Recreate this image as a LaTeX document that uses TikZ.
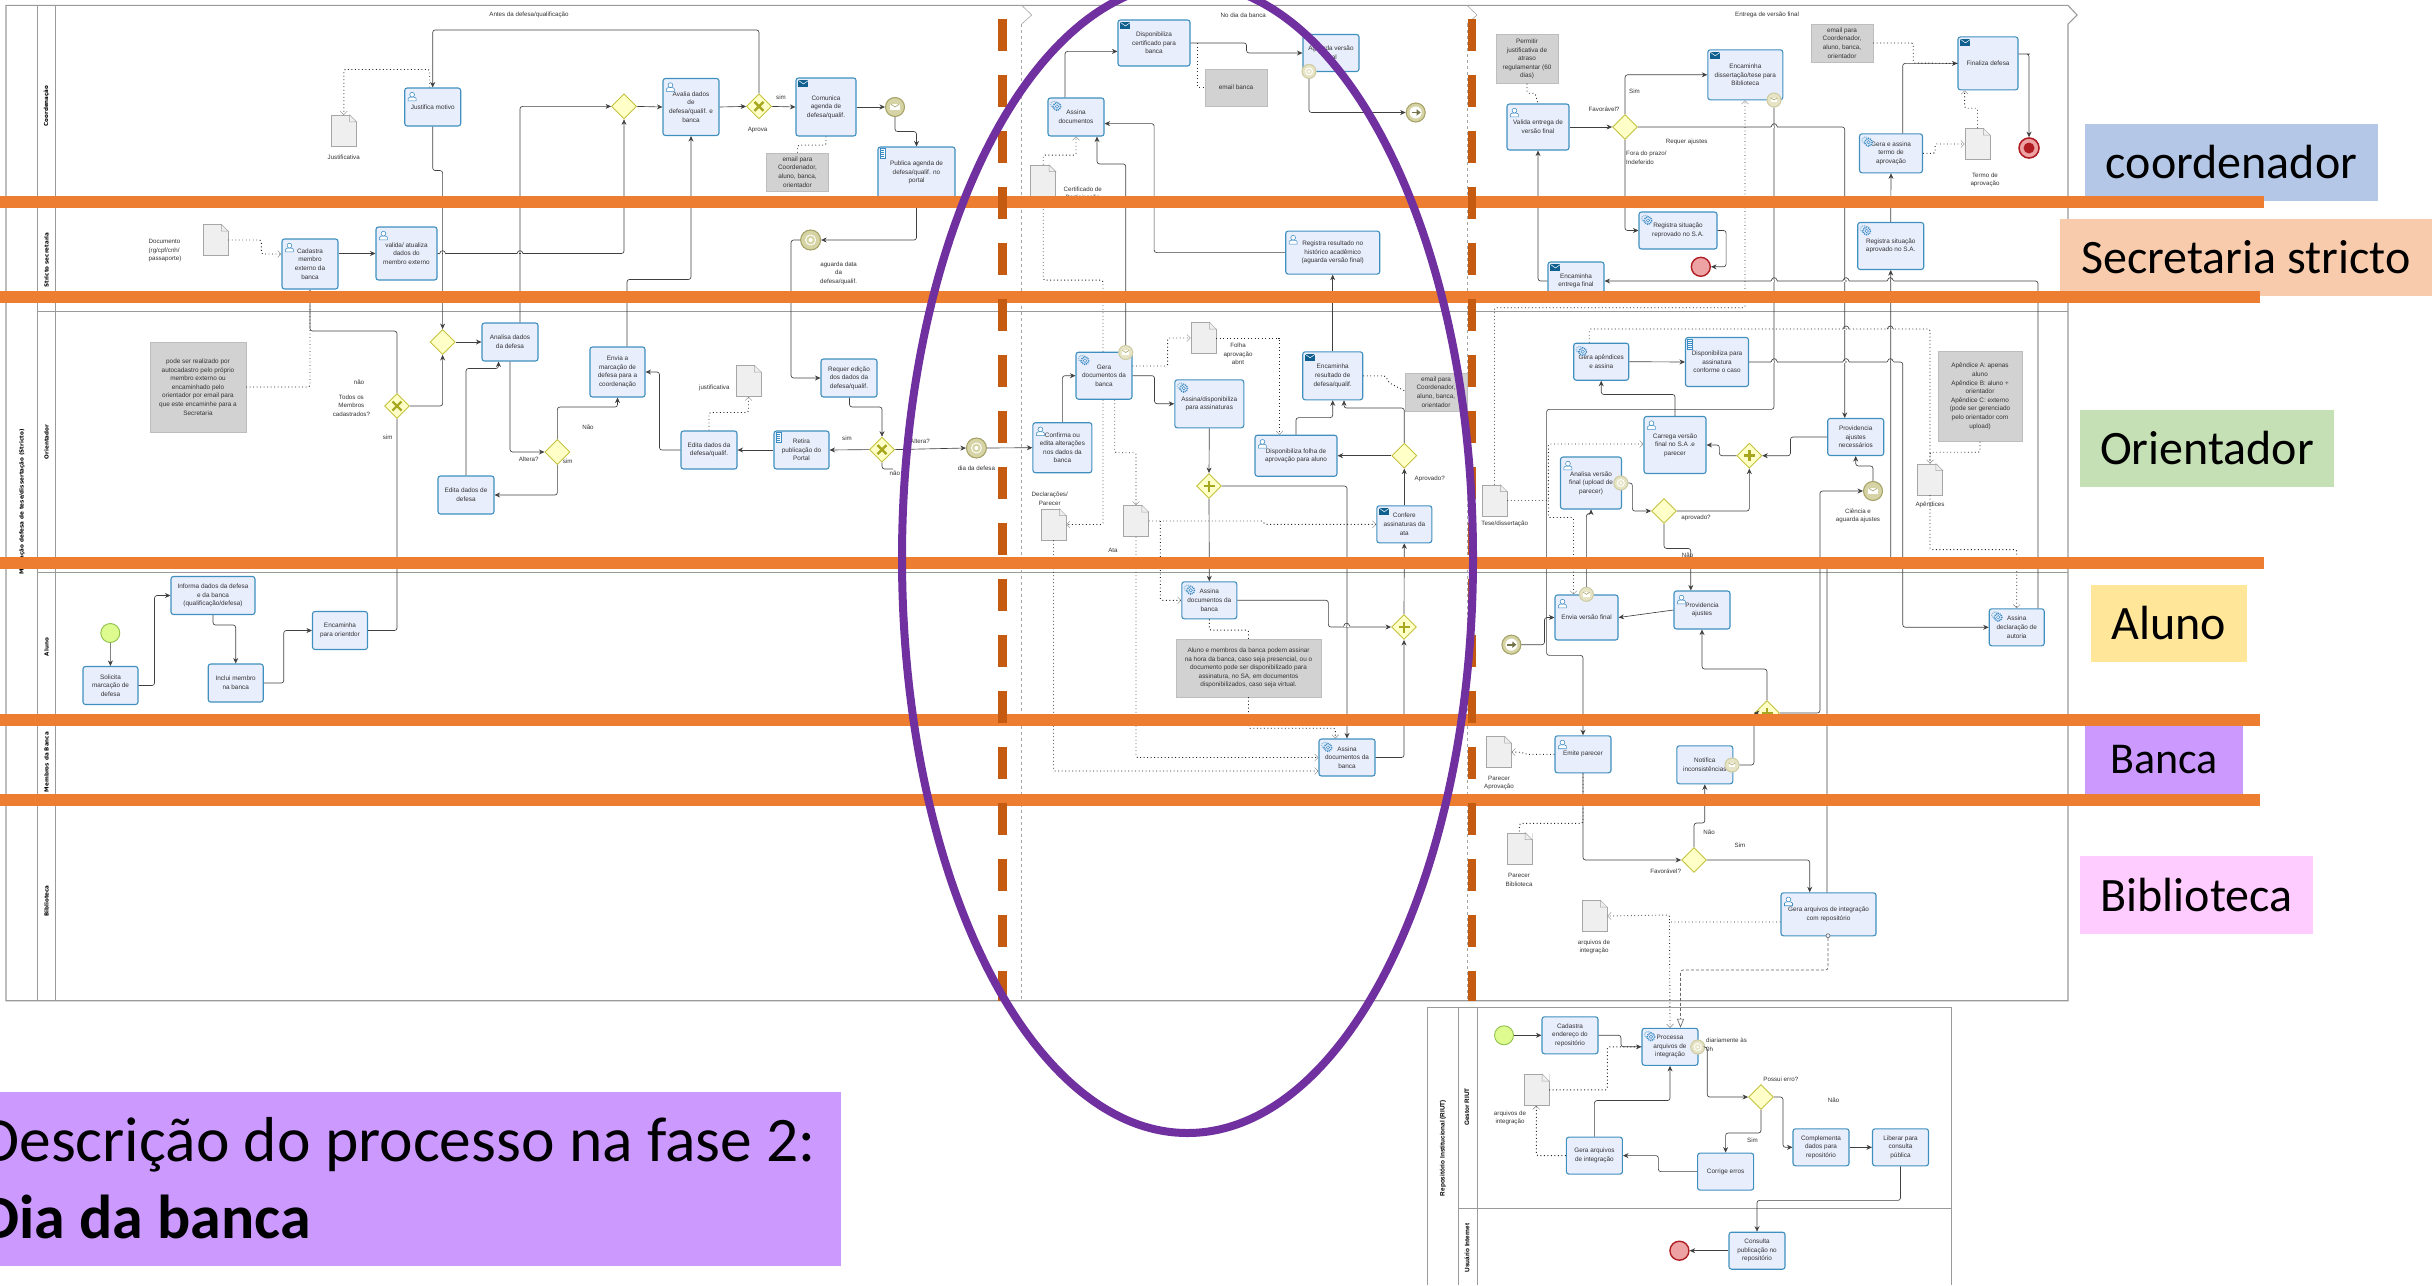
\documentclass[tikz,border=0pt]{standalone}
\usepackage{fontspec}
\setmainfont{Liberation Sans}
\newfontfamily\slidefont{Carlito}
\newfontfamily\lanefont{DejaVu Sans}
\usetikzlibrary{arrows.meta,shapes.geometric}

\definecolor{taskfill}{HTML}{E9EEFC}
\definecolor{taskline}{HTML}{3F8FBF}
\definecolor{iconblue}{HTML}{3B8CC4}
\definecolor{envblue}{HTML}{0F5F8F}
\definecolor{gwfill}{HTML}{FFFFC8}
\definecolor{gwline}{HTML}{C4C23C}
\definecolor{gwmark}{HTML}{A8A820}
\definecolor{evfill}{HTML}{D6D4A4}
\definecolor{evline}{HTML}{A6A368}
\definecolor{bndfill}{HTML}{E6E4C4}
\definecolor{bndline}{HTML}{CFCDA6}
\definecolor{startfill}{HTML}{DDFB8F}
\definecolor{startline}{HTML}{8FC24A}
\definecolor{endfill}{HTML}{EDA3A3}
\definecolor{endline}{HTML}{B01E24}
\definecolor{poolgray}{HTML}{9A9A9A}
\definecolor{notegray}{HTML}{D2D2D2}
\definecolor{docfill}{HTML}{EFEFEF}
\definecolor{barorange}{HTML}{ED7D31}
\definecolor{phaseorange}{HTML}{C55A11}
\definecolor{ringpurple}{HTML}{7030A0}
\definecolor{boxcoord}{HTML}{B4C7E7}
\definecolor{boxsecr}{HTML}{F8CBAD}
\definecolor{boxorient}{HTML}{C5E0B4}
\definecolor{boxaluno}{HTML}{FFE699}
\definecolor{boxbanca}{HTML}{CC99FF}
\definecolor{boxbib}{HTML}{FFCCFF}

\tikzset{
	task/.style 2 args={draw=taskline, fill=taskfill, line width=1.1pt, rounded corners=2.5pt,
		minimum width=#1pt, minimum height=#2pt, inner sep=0pt, align=center,
		font=\fontsize{6.4}{8.6}\selectfont, text=black!80},
	note/.style 2 args={fill=notegray, draw=notegray!90!black, line width=.4pt,
		minimum width=#1pt, minimum height=#2pt, inner sep=0pt, align=center,
		font=\fontsize{6.4}{8.6}\selectfont, text=black!80},
	docum/.style={draw=gray!70, fill=docfill, line width=.6pt, minimum width=25pt, minimum height=31pt, inner sep=0pt},
	lbl/.style={inner sep=0pt, align=center, font=\fontsize{6.2}{8.6}\selectfont, text=black!80},
	lanelbl/.style={rotate=90, inner sep=0pt, font=\lanefont\fontsize{5.6}{7}\bfseries\selectfont},
	gateway/.style={diamond, aspect=1, draw=gwline, fill=gwfill, line width=.9pt, minimum size=25pt, inner sep=0pt},
	xgate/.style={gateway, path picture={\draw[gwmark, line width=2.4pt]
		([shift={(-4.5pt,-4.5pt)}]path picture bounding box.center) -- ([shift={(4.5pt,4.5pt)}]path picture bounding box.center)
		([shift={(-4.5pt,4.5pt)}]path picture bounding box.center) -- ([shift={(4.5pt,-4.5pt)}]path picture bounding box.center);}},
	pgate/.style={gateway, path picture={\draw[gwmark, line width=2.6pt]
		([xshift=-5.5pt]path picture bounding box.center) -- ([xshift=5.5pt]path picture bounding box.center)
		([yshift=-5.5pt]path picture bounding box.center) -- ([yshift=5.5pt]path picture bounding box.center);}},
	startev/.style={circle, draw=startline, fill=startfill, line width=.9pt, minimum size=19pt, inner sep=0pt},
	endev/.style={circle, draw=endline, fill=endfill, line width=1.4pt, minimum size=19pt, inner sep=0pt},
	event/.style={circle, draw=evline, fill=evfill, line width=1.1pt, minimum size=#1pt, inner sep=0pt},
	bnd/.style={draw=bndline, fill=bndfill},
	evmsg/.style={event=#1, path picture={
		\fill[white] ([shift={(-.24*#1pt,-.16*#1pt)}]path picture bounding box.center) rectangle ([shift={(.24*#1pt,.16*#1pt)}]path picture bounding box.center);
		\draw[evline, line width=.6pt] ([shift={(-.24*#1pt,.16*#1pt)}]path picture bounding box.center) -- (path picture bounding box.center) -- ([shift={(.24*#1pt,.16*#1pt)}]path picture bounding box.center);}},
	evclk/.style={event=#1, path picture={
		\draw[white, line width=.9pt] (path picture bounding box.center) circle (#1pt*.25);
		\fill[white] (path picture bounding box.center) circle (#1pt*.1);}},
	evarr/.style={event=19, path picture={
		\fill[white] (path picture bounding box.center) circle (6pt);
		\draw[evline!70!black, line width=1.6pt, -{Triangle[length=4pt,width=6pt]}]
			([xshift=-4pt]path picture bounding box.center) -- ([xshift=5pt]path picture bounding box.center);}},
	flow/.style={draw=black!75, line width=.65pt, rounded corners=2.5pt, -{Stealth[length=5.5pt,width=5pt]}},
	flowend/.style={draw=black!75, line width=.65pt, rounded corners=2.5pt},
	assoc/.style={draw=black!85, line width=.9pt, rounded corners=1.5pt, dash pattern=on .9pt off 2.6pt},
	assocto/.style={assoc, -{Straight Barb[length=3.5pt,width=7pt,line width=.4pt,gray]}},
	msgflow/.style={draw=black!60, line width=.65pt, rounded corners=2.5pt, dash pattern=on 3pt off 2pt, -{Triangle[open,length=9pt,width=7pt]}},
	legend/.style={inner sep=0pt, font=\slidefont\fontsize{#1}{56}\selectfont},
	pics/usericon/.style={code={
		\draw[iconblue, fill=white, line width=.55pt] (-4,4.5) -- (-4,2) .. controls (-4,0) and (4,0) .. (4,2) -- (4,4.5) -- cycle;
		\draw[iconblue, fill=white, line width=.55pt] (0,-1.8) circle (2.4);}},
	pics/gearicon/.style={code={
		\draw[iconblue!55, line width=1.4pt, dash pattern=on 1pt off 1pt] (-1.5,-1) circle (3.4);
		\draw[iconblue, fill=taskfill, line width=1.5pt, dash pattern=on 1pt off .9pt] (1.5,1) circle (3.8);
		\draw[iconblue, line width=.5pt] (1.5,1) circle (1.8);}},
	pics/envicon/.style={code={
		\fill[envblue] (-5,-3.5) rectangle (5,3.5);
		\draw[white, line width=.5pt] (-5,-3) -- (0,.5) -- (5,-3);}},
	pics/scripticon/.style={code={
		\draw[iconblue, fill=white, line width=.55pt] (-2.6,-5) rectangle (2.6,5);
		\foreach \yl in {-3,-1,1,3} \draw[iconblue, line width=.4pt] (-1.6,\yl) -- (1.6,\yl);}},
}

\begin{document}
\begin{tikzpicture}[x=1pt, y=-1pt]
	\useasboundingbox (0,0) rectangle (2432,1285);

	% Pool and lanes
	\draw[poolgray, line width=1.1pt] (6,5.4) -- (2068,5.4) -- (2077,15) -- (2068,24) -- (2068,1000.7) -- (6,1000.7) -- cycle;
	\draw[poolgray, line width=1pt] (37.6,5.4) -- (37.6,1000.7) (55.5,5.4) -- (55.5,1000.7);
	\draw[poolgray, line width=1pt] (37.6,311) -- (2068,311) (37.6,572) -- (2068,572);
	\foreach \xp in {1021.7,1467} {
		\draw[gray!70, line width=.6pt] (\xp,5.4) -- (\xp+10,15) -- (\xp,24);
		\draw[gray!70, line width=.6pt, dashed] (\xp,24) -- (\xp,1000.7);
	}
	\node[lanelbl] (poolname) at (22,502) {Marcação defesa de tese/dissertação (Stricto)};
	\node[lanelbl] (lcoord) at (46.5,106) {Coordenação};
	\node[lanelbl] (lsecr) at (46.5,260) {Stricto secretaria};
	\node[lanelbl] (lorient) at (46.5,442) {Orientador};
	\node[lanelbl] (laluno) at (46.5,647) {Aluno};
	\node[lanelbl] (lbanca) at (46.5,762) {Membros da Banca};
	\node[lanelbl] (lbib) at (46.5,901) {Biblioteca};
	\node[lbl] (phase1) at (529,15) {Antes da defesa/qualificação};
	\node[lbl] (phase2) at (1243.3,15) {No dia da banca};
	\node[lbl] (phase3) at (1767,14.6) {Entrega de versão final};

	\draw[poolgray, line width=1.1pt] (1427.5,1285) -- (1427.5,1007.3) -- (1951.5,1007.3) -- (1951.5,1285);
	\draw[poolgray, line width=1pt] (1458.5,1007.3) -- (1458.5,1285) (1477.7,1007.3) -- (1477.7,1285) (1458.5,1208.3) -- (1951.5,1208.3);
	\node[lanelbl, font=\fontsize{6.4}{8}\bfseries\selectfont] (poolriut) at (1443,1148) {Repositório Institucional (RIUT)};
	\node[lanelbl, font=\fontsize{6.4}{8}\bfseries\selectfont] (lgestor) at (1467,1107) {Gestor RIUT};
	\node[lanelbl, font=\fontsize{6.4}{8}\bfseries\selectfont] (lusuario) at (1467,1248) {Usuário Internet};

	% Nodes: before the defence
	\node[task={56}{38}] (justifica) at (432.7,107) {Justifica motivo};
	\node[task={56}{57}] (avalia) at (691,107) {Avalia dados\\de\\defesa/qualif. e\\banca};
	\node[task={60}{58}] (comunica) at (826,107) {Comunica\\agenda de\\defesa/qualif.};
	\node[task={77}{51}] (publica) at (916.5,172.5) {Publica agenda de\\defesa/qualif. no\\portal};
	\node[task={56}{50}] (cadastra) at (310,264) {Cadastra\\membro\\externo da\\banca};
	\node[task={61}{53}] (validamb) at (406.5,253.5) {valida/ atualiza\\dados do\\membro externo};
	\node[task={56}{38}] (analisad) at (510,342) {Analisa dados\\da defesa};
	\node[task={55}{50}] (enviamarc) at (617.5,372) {Envia a\\marcação de\\defesa para a\\coordenação};
	\node[task={56}{38}] (requer) at (849,378) {Requer edição\\dos dados da\\defesa/qualif.};
	\node[task={55}{38}] (retira) at (801.5,450) {Retira\\publicação do\\Portal};
	\node[task={56}{38}] (editaqual) at (709,450) {Edita dados da\\defesa/qualif.};
	\node[task={56}{38}] (editadef) at (466,495) {Edita dados de\\defesa};
	\node[task={84}{38}] (informa) at (213,595.5) {Informa dados da defesa\\e da banca\\(qualificação/defesa)};
	\node[task={55}{38}] (encorient) at (340,630.5) {Encaminha\\para orientdor};
	\node[task={55}{38}] (inclui) at (235.7,683) {Inclui membro\\na banca};
	\node[task={55}{38}] (solicita) at (110.5,685.5) {Solicita\\marcação de\\defesa};

	\node[gateway] (gwjunta) at (624,106.4) {};
	\node[xgate] (gwaprova) at (759,106.4) {};
	\node[gateway] (gwanalise) at (442.6,342) {};
	\node[xgate] (gwtodos) at (397,406) {};
	\node[gateway] (gwaltera) at (557.4,452) {};
	\node[xgate] (gwedita) at (882,449.6) {};
	\node[evmsg=19] (evagenda) at (895,107) {};
	\node[evclk=20] (evaguarda) at (810.6,240) {};
	\node[evclk=20] (evdia) at (976.4,448) {};
	\node[startev] (inicio) at (110.3,633) {};

	\node[note={96}{90}] (notaauto) at (198,387) {pode ser realizado por\\autocadastro pelo próprio\\membro externo ou\\encaminhado pelo\\orientador por email para\\que este encaminhe para a\\Secretaria};
	\node[note={62}{38}] (notaemaila) at (797.5,172) {email para\\Coordenador,\\aluno, banca,\\orientador};
	\node[docum] (docjust) at (343.8,130.7) {};
	\node[docum] (docident) at (215.5,240) {};
	\node[docum] (docjustb) at (748.5,381) {};

	\node[lbl] (ljust) at (343.7,156.8) {Justificativa};
	\node[lbl, align=left] (lident) at (165,250.7) {Documento\\(rg/cpf/cnh/\\passaporte)};
	\node[lbl] (ljustb) at (714.3,388) {justificativa};
	\node[lbl] (lsima) at (781,97.5) {sim};
	\node[lbl] (laprova) at (757.6,130) {Aprova};
	\node[lbl] (lnaoa) at (359,382.5) {não};
	\node[lbl] (ltodos) at (351.4,405.4) {Todos os\\Membros\\cadastrados?};
	\node[lbl] (lsimb) at (387.8,437) {sim};
	\node[lbl] (lnaob) at (588,427) {Não};
	\node[lbl] (lalteraa) at (528.7,459.6) {Altera?};
	\node[lbl] (lsimc) at (567.6,461) {sim};
	\node[lbl] (laguarda) at (838.6,273) {aguarda data\\da\\defesa/qualif.};
	\node[lbl] (lsimd) at (847,438) {sim};
	\node[lbl] (lalterab) at (920,441.4) {Altera?};
	\node[lbl] (lnaoc) at (894.8,473) {não};
	\node[lbl] (ldia) at (976.4,468) {dia da defesa};

	% Links: before the defence
	\draw[flow] (inicio) -- (solicita);
	\draw[flow] (solicita.east) -- ++(16,0) |- (informa.west);
	\draw[flow] (informa.south) -- ++(0,10) -| (inclui.north);
	\draw[flow] (inclui.east) -- ++(20,0) |- (encorient.west);
	\draw[flowend] (encorient.east) -| (gwtodos.south);
	\draw[flow] (gwtodos.north) -- ++(0,-62) -| (cadastra.south);
	\draw[flow] (gwtodos.east) -| (gwanalise.south);
	\draw[flow] (justifica.south) -- ++(0,44) -| (gwanalise.north);
	\draw[flow] (gwanalise.east) -- (analisad.west);
	\draw[flow] ([xshift=10pt]analisad.north) |- (gwjunta.west);
	\draw[flow] (analisad.south) |- (gwaltera.west);
	\draw[flow] (gwaltera.south) |- (editadef.east);
	\draw[flow] (editadef.north) -- ++(0,-107) -| ([xshift=-11.5pt]analisad.south);
	\draw[flow] (gwaltera.north) -- ++(0,-32) -| (enviamarc.south);
	\draw[flow] ([xshift=9.5pt]enviamarc.north) -- ++(0,-67) -| (avalia.south);
	\draw[flow] (cadastra.east |- validamb.west) -- (validamb.west);
	\draw[flow] (validamb.east) -| (gwjunta.south);
	\draw[flow] (gwjunta.east) -- (avalia.west);
	\draw[flow] (avalia.east) -- (gwaprova.west);
	\draw[flow] (gwaprova.east) -- (comunica.west);
	\draw[flow] (gwaprova.north) -- ++(0,-63.5) -| (justifica.north);
	\draw[flow] (comunica.east) -- (evagenda.west);
	\draw[flow] (evagenda.south) -- ++(0,14.5) -| (publica.north);
	\draw[flow] (publica.south) |- (evaguarda.east);
	\draw[flow] (evaguarda.west) -- ++(-9,0) |- (requer.west);
	\draw[flow] ([xshift=.5pt]requer.south) -- ++(0,9.4) -| (gwedita.north);
	\draw[flow] (gwedita.west) -- (retira.east);
	\draw[flow] (retira.west) -- (editaqual.east);
	\draw[flow] (editaqual.west) -- ++(-21,0) |- (enviamarc.east);
	\draw[flow] (gwedita.east) -- (evdia.west);
	\coordinate (naofim) at (893,469);
	\draw[flowend] (gwedita.south) |- (naofim);
	\draw[assoc] (notaauto.east) -| (cadastra.south);
	\draw[assocto] ([xshift=-3pt]justifica.north) -- ++(0,-18) -| (docjust.north);
	\draw[assocto] (docident.east) -- ++(33,0) |- ([yshift=10pt]cadastra.west);
	\draw[assoc] (comunica.south) -- ++(0,8.6) -| (notaemaila.north);
	\draw[assocto] (editaqual.north) -- ++(0,-18) -| (docjustb.south);

	% Nodes: day of the defence
	\node[task={72}{46}] (disponib) at (1154,43) {Disponibiliza\\certificado para\\banca};
	\node[task={56}{37}] (aguarda) at (1331,53) {Aguarda versão\\final};
	\node[task={56}{38}] (assinadoc) at (1076,117) {Assina\\documentos};
	\node[task={94}{43}] (regresult) at (1332.7,252.6) {Registra resultado no\\histórico acadêmico\\(aguarda versão final)};
	\node[task={56}{47}] (geradoc) at (1104,375.7) {Gera\\documentos da\\banca};
	\node[task={69}{48}] (assinadisp) at (1209.3,403.8) {Assina/disponibiliza\\para assinaturas};
	\node[task={60}{48}] (encresult) at (1332.7,375.8) {Encaminha\\resultado de\\defesa/qualif.};
	\node[task={82}{41}] (dispfolha) at (1296,455.7) {Disponibiliza folha de\\aprovação para aluno};
	\node[task={59}{50}] (confirma) at (1062.4,447.7) {Confirma ou\\edita alterações\\nos dados da\\banca};
	\node[task={55}{37}] (confere) at (1404.3,524.3) {Confere\\assinaturas da\\ata};
	\node[task={55}{37}] (assinaal) at (1209.3,600.3) {Assina\\documentos da\\banca};
	\node[task={56}{37}] (assinabc) at (1347,757.5) {Assina\\documentos da\\banca};

	\node[gateway] (gwaprovado) at (1404.3,455.7) {};
	\node[pgate] (gwdivide) at (1209,486) {};
	\node[pgate] (gwreune) at (1404,627) {};
	\node[evclk=14, bnd] (bndaguarda) at (1309,71.4) {};
	\node[evarr] (fimbanca) at (1415.7,112.5) {};
	\node[evmsg=14, bnd] (bndgera) at (1125.7,352.5) {};

	\node[note={62}{37}] (notaemailb) at (1236,87.7) {email banca};
	\node[note={62}{38}] (notaemailc) at (1436,392) {email para\\Coordenador,\\aluno, banca,\\orientador};
	\node[note={145}{58}] (notaassina) at (1248.5,668) {Aluno e membros da banca podem assinar\\na hora da banca, caso seja presencial, ou o\\documento pode ser disponibilizado para\\assinatura, no SA, em documentos\\disponibilizados, caso seja virtual.};
	\node[docum] (doccert) at (1043.2,180.5) {};
	\node[docum] (docfolha) at (1203.5,338) {};
	\node[docum] (docdecl) at (1053.5,524.5) {};
	\node[docum] (docata) at (1136,521) {};

	\node[lbl] (lcert) at (1082.7,194) {Certificado de\\Participação};
	\node[lbl] (lfolha) at (1238,354) {Folha\\aprovação\\abnt};
	\node[lbl] (ldecl) at (1049.7,499) {Declarações/\\Parecer};
	\node[lbl] (lata) at (1113,550) {Ata};
	\node[lbl] (laprovado) at (1429.7,479) {Aprovado?};

	% Links: day of the defence
	\draw[flow] (evdia.east) -- (confirma.west);
	\draw[flow] (confirma.north) |- (geradoc.west);
	\draw[flow] (geradoc.east) -- ++(22,0) |- (assinadisp.west);
	\draw[flow] (bndgera.north) -- ++(0,-181) -| ([xshift=21pt]assinadoc.south);
	\draw[flow] ([xshift=-11pt]assinadoc.north) |- ([yshift=-8.4pt]disponib.west);
	\draw[flow] (disponib.east) -- ++(56,0) |- (aguarda.west);
	\draw[flow] (bndaguarda.south) |- (fimbanca.west);
	\draw[flow] (regresult.west) -- ++(-131,0) |- ([yshift=-6.6pt]assinadoc.east);
	\draw[flow] (encresult.north) -- (regresult.south);
	\draw[flow] (dispfolha.north) -- ++(0,-17) -| (encresult.south);
	\draw[flow] (gwaprovado.north) -- ++(0,-34.7) -| ([xshift=11.3pt]encresult.south);
	\draw[flow] (gwaprovado.west) -- (dispfolha.east);
	\draw[flow] (confere.north) -- (gwaprovado.south);
	\draw[flow] (assinadisp.south) -- (gwdivide.north);
	\draw[flow] (gwdivide.south) -- (assinaal.north);
	\draw[flow] (gwdivide.east) -| (assinabc.north);
	\draw[flow] (assinaal.east) -- ++(91,0) |- (gwreune.west);
	\draw[flow] (assinabc.east) -| (gwreune.south);
	\draw[flow] (gwreune.north) -- (confere.south);
	\draw[assoc] (disponib.east) ++(7,0) |- (notaemailb.west);
	\draw[assoc] (encresult.east) -- ++(22,0) -- ++(4,7) -- (notaemailc.west |- 0,391);
	\draw[assoc] ([xshift=-1pt]geradoc.north) -- ++(0,-71.5) -| (doccert.south);
	\draw[assocto] (doccert.north) -- ++(0,-9.6) -| (assinadoc.south);
	\draw[assocto] ([yshift=9.7pt]geradoc.east) -- ++(35,0) |- (docfolha.west);
	\draw[assocto] (docfolha.east) -- ++(63,0) -| ([xshift=-16.6pt]dispfolha.north);
	\draw[assocto] ([xshift=-1pt]geradoc.south) |- (docdecl.east);
	\draw[assocto] ([xshift=10.7pt]geradoc.south) -- ++(0,53) -| (docata.north);
	\draw[assocto] (docata.east) -- ++(114,0) -- ++(2,3.3) -- (confere.west);
	\draw[assocto] (docata.east) ++(11.6,0) |- (assinaal.west);
	\draw[assocto] (docata.south) |- (assinabc.west);
	\draw[assocto] (docdecl.south) |- ([yshift=-13.5pt]assinabc.west);
	\draw[assoc] (assinaal.south) -- ++(0,10.7) -| (notaassina.north);
	\draw[assocto] (notaassina.south) -- ++(0,31) -| ([xshift=-11.7pt]assinabc.north);

	% Nodes: final version
	\node[task={62}{46}] (validaent) at (1538,127) {Valida entrega de\\versão final};
	\node[task={75}{50}] (encbib) at (1745.3,74.8) {Encaminha\\dissertação/tese para\\Biblioteca};
	\node[task={60}{53}] (finaliza) at (1988,63.4) {Finaliza defesa};
	\node[task={63}{39}] (geratermo) at (1891,153.3) {Gera e assina\\termo de\\aprovação};
	\node[task={78}{37}] (regreprov) at (1678,230.5) {Registra situação\\reprovado no S.A.};
	\node[task={66}{47}] (regaprov) at (1890.7,246) {Registra situação\\aprovado no S.A.};
	\node[task={56}{38}] (entrega) at (1576,281) {Encaminha\\entrega final};
	\node[task={55}{37}] (geraapend) at (1601.2,361.7) {Gera apêndices\\e assina};
	\node[task={63}{49}] (dispass) at (1717,362) {Disponibiliza para\\assinatura\\conforme o caso};
	\node[task={62}{57}] (carrega) at (1675,445) {Carrega versão\\final no S.A .e\\parecer};
	\node[task={56}{37}] (provnec) at (1855.7,437) {Providencia\\ajustes\\necessários};
	\node[task={61}{52}] (analver) at (1591,483) {Analisa versão\\final (upload de\\parecer)};
	\node[task={63}{45}] (enviaver) at (1586.5,617.5) {Envia versão final};
	\node[task={56}{38}] (provajust) at (1702,610) {Providencia\\ajustes};
	\node[task={55}{37}] (declara) at (2016.7,627.3) {Assina\\declaração de\\autoria};
	\node[task={56}{37}] (emite) at (1583,754.3) {Emite parecer};
	\node[task={56}{38}] (notifica) at (1704.8,764.8) {Notifica\\inconsistências};
	\node[task={95}{43}] (gerarq) at (1828.5,914.3) {Gera arquivos de integração\\com repositório};

	\node[gateway] (gwfavor) at (1625,127) {};
	\node[pgate] (gwajuste) at (1749.3,455.7) {};
	\node[gateway] (gwaprov) at (1664,511) {};
	\node[pgate] (gwaluno) at (1767,713) {};
	\node[gateway] (gwfavorb) at (1694,860) {};
	\node[evmsg=14, bnd] (bndbib) at (1774,100) {};
	\node[evclk=14, bnd] (bndanalisa) at (1620.8,483) {};
	\node[evmsg=14, bnd] (bndenvia) at (1586.4,594.3) {};
	\node[evmsg=14, bnd] (bndnotif) at (1732,765) {};
	\node[evmsg=19] (evciencia) at (1873,491) {};
	\node[evarr] (evretorno) at (1511.4,644.7) {};
	\node[endev] (fimreprov) at (1700.8,266.8) {};
	\node[circle, draw=endline, fill=endfill, line width=1.6pt, minimum size=20pt, inner sep=0pt,
		path picture={\fill[endline] (path picture bounding box.center) circle (5.5pt);}] (fimdefesa) at (2029,148) {};
	\node[circle, draw=black!60, fill=taskfill, line width=.6pt, minimum size=4pt, inner sep=0pt] (msgorig) at (1828,935.7) {};

	\node[note={62}{49}] (notaprazo) at (1527,59) {Permitir\\justificativa de\\atraso\\regulamentar (60\\dias)};
	\node[note={62}{38}] (notaemaild) at (1842,43) {email para\\Coordenador,\\aluno, banca,\\orientador};
	\node[note={84}{90}] (notaapend) at (1980,396.4) {Apêndice A: apenas\\aluno\\Apêndice B: aluno +\\orientador\\Apêndice C: externo\\(pode ser gerenciado\\pelo orientador com\\upload)};
	\node[docum] (doctermo) at (1977.5,144) {};
	\node[docum] (docapend) at (1930,479.3) {};
	\node[docum] (doctese) at (1494.5,500.5) {};
	\node[docum] (docparap) at (1498.7,752) {};
	\node[docum] (docparbib) at (1519.4,848.5) {};
	\node[docum] (docarq) at (1594.5,916) {};

	\node[lbl] (lfavora) at (1604,109) {Favorável?};
	\node[lbl] (lsime) at (1634.5,91) {Sim};
	\node[lbl] (lajustes) at (1686.7,141.4) {Requer ajustes};
	\node[lbl, align=left, anchor=west] (lfora) at (1626,158) {Fora do prazo/\\Indeferido};
	\node[lbl] (ltermo) at (1985,180) {Termo de\\aprovação};
	\node[lbl] (laprovb) at (1696,518) {aprovado?};
	\node[lbl] (lnaod) at (1687.6,555) {Não};
	\node[lbl] (lciencia) at (1858,516) {Ciência e\\aguarda ajustes};
	\node[lbl] (lapend) at (1930,505) {Apêndices};
	\node[lbl] (ltese) at (1504.7,524) {Tese/dissertação};
	\node[lbl] (lparap) at (1499,783) {Parecer\\Aprovação};
	\node[lbl] (lparbib) at (1519,879.7) {Parecer\\Biblioteca};
	\node[lbl] (larq) at (1594,946.7) {arquivos de\\integração};
	\node[lbl] (lfavorb) at (1665.6,871) {Favorável?};
	\node[lbl] (lnaoe) at (1709,832) {Não};
	\node[lbl] (lsimf) at (1740,845) {Sim};

	% Links: final version
	\draw[flow] (validaent.east) -- (gwfavor.west);
	\draw[flow] (gwfavor.north) |- (encbib.west);
	\draw[flow] (gwfavor.east) -| ([xshift=-11pt]provnec.north);
	\draw[flow] (gwfavor.south) |- (regreprov.west);
	\draw[flow] (regreprov.east) -- ++(8.5,0) |- (fimreprov.east);
	\draw[flow] (entrega.west) -| (validaent.south);
	\draw[flow] ([xshift=21.3pt]declara.north) |- (entrega.east);
	\draw[flow] (regaprov.north) -- (geratermo.south);
	\draw[flow] ([xshift=-1.5pt]gerarq.north) -- ++(0,-332) -| (regaprov.south);
	\draw[flow] ([xshift=11.7pt]geratermo.north) |- (finaliza.west);
	\draw[flow] ([yshift=9.4pt]finaliza.east) -- ++(9,0) -| (fimdefesa.north);
	\draw[flow] (bndbib.south) -- ++(0,301.8) -| ++(-227.4,246) -| (emite.north);
	\draw[flow] (evretorno.east) -- ++(23,0) |- (enviaver.west);
	\draw[flow] (provajust.west) -- (enviaver.east);
	\draw[flow] (gwaluno.north) -- ++(0,-31) -| (provajust.south);
	\draw[flow] (bndnotif.east) -- ++(14.4,0) |- (gwaluno.west);
	\draw[flow] (gwaluno.east) -- ++(40,0) |- (evciencia.west);
	\draw[flow] (gwfavorb.north) -- ++(0,-24) -| (notifica.south);
	\draw[flow] (emite.south) |- (gwfavorb.west);
	\draw[flow] (gwfavorb.east) -| ([xshift=-18.8pt]gerarq.north);
	\draw[flow] (geraapend.east) -- (dispass.west);
	\draw[flow] (dispass.east) -- ++(153.7,0) |- (declara.west);
	\draw[flow] (carrega.north) -- ++(0,-21.5) -| (geraapend.south);
	\draw[flow] (gwajuste.west) -- ++(-17,0) |- (carrega.east);
	\draw[flow] (provnec.west) -- ++(-36.7,0) |- (gwajuste.east);
	\draw[flow] (evciencia.north) -- ++(0,-15) -| (provnec.south);
	\draw[flow] (bndanalisa.east) -- ++(4,0) |- (gwaprov.west);
	\draw[flow] (gwaprov.east) -| (gwajuste.south);
	\draw[flow] (gwaprov.south) -- ++(0,24.5) -| ([xshift=-11.2pt]provajust.north);
	\draw[flow] (bndenvia.north) -- ++(0,-73) -| (analver.south);
	\draw[assoc] (notaprazo.south) -- ++(0,9.5) -- ++(8,0) -- (validaent.north);
	\draw[assoc] (notaemaild.east) -- ++(40,0) -- ++(0,20) -- (finaliza.west);
	\draw[assocto] (doctermo.north) -- ++(0,-20) -| ([xshift=-23.4pt]finaliza.south);
	\draw[assocto] (geratermo.east) -- ++(12,0) |- (doctermo.west);
	\draw[assocto] (doctese.east) -- ++(41,0) |- ([yshift=1pt]carrega.west);
	\draw[assocto] (doctese.east) ++(41,0) -- ++(0,17) -| ([xshift=-13pt]enviaver.north);
	\draw[assocto] (doctese.north) -- ++(0,-177) -| ([xshift=-.3pt]encbib.south);
	\draw[assocto] ([xshift=-12pt]geraapend.north) -- ++(0,-13.7) -| (docapend.north);
	\draw[assoc] (notaapend.south) -- ++(0,10.6) -| (docapend.north);
	\draw[assocto] (docapend.south) -- ++(0,54.5) -| (declara.north);
	\draw[assoc] (emite.south) -- ++(0,50) -| (docparbib.north);
	\draw[assocto] (emite.west) -- ++(-28,0) -- ++(-5,-2) -- (docparap.east);

	% Nodes: institutional repository
	\node[task={56}{37}] (cadend) at (1570,1035.3) {Cadastra\\endereço do\\repositório};
	\node[task={56}{37}] (processa) at (1670,1046.8) {Processa\\arquivos de\\integração};
	\node[task={56}{37}] (compl) at (1821,1147.3) {Complementa\\dados para\\repositório};
	\node[task={56}{37}] (liberar) at (1900.5,1147.3) {Liberar para\\consulta\\pública};
	\node[task={56}{37}] (corrige) at (1725.6,1171.6) {Corrige erros};
	\node[task={56}{37}] (gerarqb) at (1594.4,1155.6) {Gera arquivos\\de integração};
	\node[task={56}{37}] (consulta) at (1757,1250.7) {Consulta\\publicação no\\repositório};
	\node[gateway] (gwerro) at (1761,1097) {};
	\node[startev] (iniriut) at (1504,1035.3) {};
	\node[endev] (fimriut) at (1679.4,1250.7) {};
	\node[evclk=14, bnd] (bndproc) at (1697.7,1047) {};
	\node[docum] (docarqb) at (1536.3,1089.8) {};
	\node[lbl, align=left, anchor=west] (ldiario) at (1706,1044.5) {diariamente às\\0h};
	\node[lbl] (lerro) at (1780.8,1079.3) {Possui erro?};
	\node[lbl] (lnaof) at (1833.6,1100.3) {Não};
	\node[lbl] (lsimg) at (1752.5,1140) {Sim};
	\node[lbl] (larqb) at (1510,1118) {arquivos de\\integração};

	% Links: institutional repository
	\draw[assocto] ([yshift=-7.7pt]gerarq.west) -- ++(-111,0) -- ++(0,-7) -- (docarq.east);
	\draw[assocto] ([yshift=-7.7pt]gerarq.west) ++(-111,0) -- (processa.north);
	\draw[msgflow] (msgorig.south) -- ++(0,32) -| ([xshift=10.5pt]processa.north);
	\draw[flow] (iniriut.east) -- (cadend.west);
	\draw[flow] (cadend.east) -- ++(22.4,0) |- (processa.west);
	\draw[assoc] (docarqb.east) -- ++(58.2,0) |- (processa.west);
	\draw[flow] (gerarqb.north) -- ++(0,-36) -| (processa.south);
	\draw[flow] (bndproc.east) -- ++(2,0) |- (gwerro.west);
	\draw[flow] (gwerro.east) -- ++(9,0) |- (compl.west);
	\draw[flow] (gwerro.south) -- ++(0,23) -| (corrige.north);
	\draw[flow] (corrige.west) -- ++(-38.7,0) |- (gerarqb.east);
	\draw[flow] (compl.east) -- (liberar.west);
	\draw[flow] (liberar.south) -- ++(0,34) -| (consulta.north);
	\draw[flow] (consulta.west) -- (fimriut.east);
	\draw[assocto] (gerarqb.west) -| (docarqb.south);

	% Line hops
	\foreach \hx/\hy in {442.6/254,520/254,1346.7/626.5,1774.2/127,1774.2/281,1846/281,1890.3/281,1774.2/362,1846/362,1890.3/362,1846/329.3,1890.3/329.3} {
		\draw[white, line width=1.2pt] (\hx-3.2,\hy) -- (\hx-.6,\hy) (\hx+.6,\hy) -- (\hx+3.2,\hy);
		\draw[black!75, line width=.65pt] (\hx-3.2,\hy) .. controls (\hx-2,\hy-4.5) and (\hx+2,\hy-4.5) .. (\hx+3.2,\hy);
	}

	% Task icons
	\foreach \tk in {justifica,avalia,cadastra,validamb,regresult,dispfolha,confirma,validaent,carrega,analver,enviaver,provajust,emite,gerarq}
		\pic at ([shift={(8pt,-9pt)}]\tk.north west) {usericon};
	\foreach \tk in {assinadoc,geradoc,assinadisp,assinaal,assinabc,regreprov,regaprov,geratermo,geraapend,declara,processa}
		\pic at ([shift={(8pt,-8pt)}]\tk.north west) {gearicon};
	\foreach \tk in {comunica,disponib,encresult,confere,encbib,finaliza,entrega}
		\pic at ([shift={(8pt,-6pt)}]\tk.north west) {envicon};
	\foreach \tk in {publica,retira,dispass}
		\pic at ([shift={(5pt,-7pt)}]\tk.north west) {scripticon};

	% Document corners
	\foreach \dc in {docjust,docident,docjustb,doccert,docfolha,docdecl,docata,doctermo,docapend,doctese,docparap,docparbib,docarq,docarqb} {
		\fill[white] ([xshift=-7pt,yshift=.5pt]\dc.north east) -- ([xshift=.5pt,yshift=.5pt]\dc.north east) -- ([xshift=.5pt,yshift=-7pt]\dc.north east) -- cycle;
		\draw[gray!70, line width=.5pt] ([xshift=-7pt]\dc.north east) -- ([xshift=-7pt,yshift=-7pt]\dc.north east) -- ([yshift=-7pt]\dc.north east) -- cycle;
	}

	% Slide labels
	\node[legend=48, fill=boxcoord, minimum width=293pt, minimum height=77pt] (bcoord) at (2231.5,162.5) {coordenador};
	\node[legend=48, fill=boxsecr, minimum width=372pt, minimum height=77pt] (bsecr) at (2246,257.5) {Secretaria stricto};
	\node[legend=48, fill=boxorient, minimum width=254pt, minimum height=77pt] (borient) at (2207,448) {Orientador};
	\node[legend=48, fill=boxaluno, minimum width=156pt, minimum height=77pt] (baluno) at (2169,623.5) {Aluno};
	\node[legend=44, fill=boxbanca, minimum width=158pt, minimum height=72pt] (bbanca) at (2164,760) {Banca};
	\node[legend=48, fill=boxbib, minimum width=233pt, minimum height=78pt] (bbib) at (2196.5,895) {Biblioteca};
	\fill[boxbanca] (0,1092) rectangle (841,1266);
	\node[inner sep=0pt, anchor=east, font=\slidefont\fontsize{63.5}{70}\selectfont] (tfase) at (816,1145) {Descrição do processo na fase 2:};
	\node[inner sep=0pt, anchor=east, font=\slidefont\fontsize{62}{70}\bfseries\selectfont] (tdia) at (311,1217) {Dia da banca};

	% Orange lines over the lanes
	\foreach \ya/\yb/\xe in {196/208/2264,290.5/302.5/2260,556.5/568.5/2264,714/726/2260,794/806/2260}
		\fill[barorange] (0,\ya) rectangle (\xe,\yb);
	\foreach \xd in {1002.5,1471.8}
		\draw[phaseorange, line width=8.5pt, dash pattern=on 32pt off 24pt] (\xd,19) -- (\xd,1001);
	\draw[ringpurple, line width=8pt] (1187.5,558) ellipse [x radius=285.5pt, y radius=575pt];
\end{tikzpicture}
\end{document}
